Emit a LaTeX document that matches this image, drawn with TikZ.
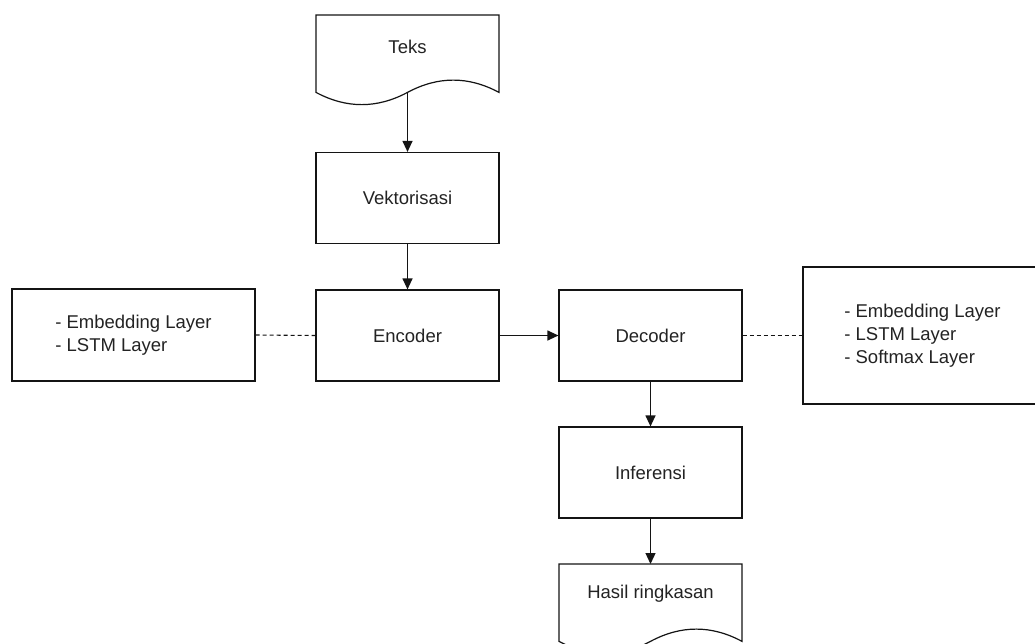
\documentclass[tikz,border=0pt]{standalone}
\usepackage{fontspec}
\setmainfont{Liberation Sans}
\usetikzlibrary{arrows.meta}
\definecolor{textc}{RGB}{35,35,35}
\definecolor{linec}{RGB}{20,20,20}
\begin{document}
\begin{tikzpicture}[x=1pt,y=-1pt,
  font=\fontsize{18.5}{23}\selectfont,
  box/.style={draw=linec, line width=1.2pt, minimum width=183pt, minimum height=91pt, inner sep=0pt, text=textc},
  txt/.style={inner sep=0pt, text=textc},
  docshape/.style={draw=linec, line width=1.2pt},
  arr/.style={draw=linec, line width=1.2pt, -{Triangle[length=11pt,width=10pt]}},
  dashline/.style={draw=linec, line width=1.1pt, dash pattern=on 4pt off 3pt}]
\clip (0,0) rectangle (1035,643);
\fill[white] (0,0) rectangle (1035,643);
% Teks document shape
\draw[docshape] (316,15) -- (499,15) -- (499,92.4)
  .. controls (468.5,76) and (438,76) .. (407.5,92.4)
  .. controls (377,108.7) and (346.5,108.7) .. (316,92.4) -- cycle;
\coordinate (teksb) at (407.5,92.4);
\node[txt] (teks) at (407.5,47) {Teks};
% boxes
\node[box] (vek) at (407.5,198) {Vektorisasi};
\node[box] (enc) at (407.5,335.5) {Encoder};
\node[box] (dec) at (650.5,335.5) {Decoder};
\node[box] (inf) at (650.5,472.5) {Inferensi};
\node[box, minimum width=243pt, minimum height=92pt, align=left] (lbox) at (133.5,335)
  {- Embedding Layer\\- LSTM Layer};
\node[box, minimum width=239pt, minimum height=137pt, align=left] (rbox) at (922.5,335.5)
  {- Embedding Layer\\- LSTM Layer\\- Softmax Layer};
% Hasil ringkasan document shape
\draw[docshape] (559,564) -- (742,564) -- (742,641.35)
  .. controls (711.5,625) and (681,625) .. (650.5,641.35)
  .. controls (620,657.7) and (589.5,657.7) .. (559,641.35) -- cycle;
\coordinate (hasilt) at (650.5,564);
\node[txt] (hasil) at (650.5,594) {Hasil ringkasan};
% connectors
\draw[arr] (teksb) -- (vek.north);
\draw[arr] (vek.south) -- (enc.north);
\draw[arr] (enc.east) -- (dec.west);
\draw[arr] (dec.south) -- (inf.north);
\draw[arr] (inf.south) -- (hasilt);
\draw[dashline] (lbox.east) -- (enc.west);
\draw[dashline] (dec.east) -- (rbox.west);
\end{tikzpicture}
\end{document}
